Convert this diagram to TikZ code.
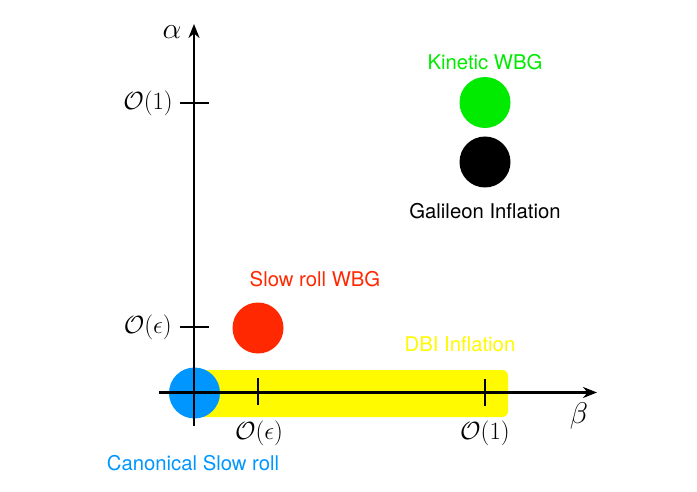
\documentclass[tikz,border=0pt]{standalone}
\usepackage{fontspec}
\setmainfont{TeX Gyre Heros}
\usetikzlibrary{arrows.meta}
\definecolor{cgreen}{RGB}{0,235,0}
\definecolor{cred}{RGB}{255,40,0}
\definecolor{cblue}{RGB}{0,150,255}
\definecolor{cyellow}{RGB}{255,250,0}
\begin{document}
\begin{tikzpicture}[x=1pt,y=-1pt,
  axis/.style={line width=2.6pt,-{Stealth[length=14pt,width=11pt]}},
  tick/.style={line width=2.6pt},
  blob/.style={circle,inner sep=0pt,minimum size=51pt},
  lbl/.style={inner sep=0pt,font=\fontsize{20.3}{24}\selectfont},
  mlbl/.style={inner sep=0pt,font=\fontsize{25}{29}\selectfont},
  glbl/.style={inner sep=0pt,font=\fontsize{24}{28}\selectfont}]
\useasboundingbox (0,0) rectangle (697,492);
% DBI band
\node[fill=cyellow,rounded corners=6pt,minimum width=314pt,minimum height=47pt,inner sep=0pt,anchor=west] (dbi) at (194,393.5) {};
% blobs
\node[blob,fill=cblue] (can) at (194.5,393) {};
\node[blob,fill=cred] (slow) at (258,328) {};
\node[blob,fill=cgreen] (kin) at (485,102.5) {};
\node[blob,fill=black] (gal) at (485,162) {};
% axes
\coordinate (xs) at (159,392.5);
\coordinate (xe) at (597,392.5);
\coordinate (ys) at (194,426);
\coordinate (ye) at (194,24);
\draw[axis] (xs) -- (xe);
\draw[axis] (ys) -- (ye);
% ticks
\coordinate (ty1a) at (180,103); \coordinate (ty1b) at (209,103);
\coordinate (tyea) at (180,327); \coordinate (tyeb) at (209,327);
\coordinate (txea) at (258,378); \coordinate (txeb) at (258,405);
\coordinate (tx1a) at (485,379); \coordinate (tx1b) at (485,406);
\draw[tick] (ty1a) -- (ty1b);
\draw[tick] (tyea) -- (tyeb);
\draw[tick] (txea) -- (txeb);
\draw[tick] (tx1a) -- (tx1b);
% axis labels
\node[glbl] (alpha) at (172,32) {\scalebox{1.2}{$\alpha$}};
\node[glbl] (beta) at (579,416) {\scalebox{1.2}{$\beta$}};
\node[mlbl,anchor=east] (ly1) at (173,103) {$\mathcal{O}(1)$};
\node[mlbl,anchor=east] (lye) at (172,327) {$\mathcal{O}(\epsilon)$};
\node[mlbl] (lxe) at (259,433) {$\mathcal{O}(\epsilon)$};
\node[mlbl] (lx1) at (485,433) {$\mathcal{O}(1)$};
% text labels
\node[lbl,text=cgreen] (tkin) at (485,62) {Kinetic WBG};
\node[lbl,text=black] (tgal) at (485,211) {Galileon Inflation};
\node[lbl,text=cred] (tslow) at (315,279) {Slow roll WBG};
\node[lbl,text=cyellow] (tdbi) at (460,344) {DBI Inflation};
\node[lbl,text=cblue] (tcan) at (193,463) {Canonical Slow roll};
\end{tikzpicture}
\end{document}
